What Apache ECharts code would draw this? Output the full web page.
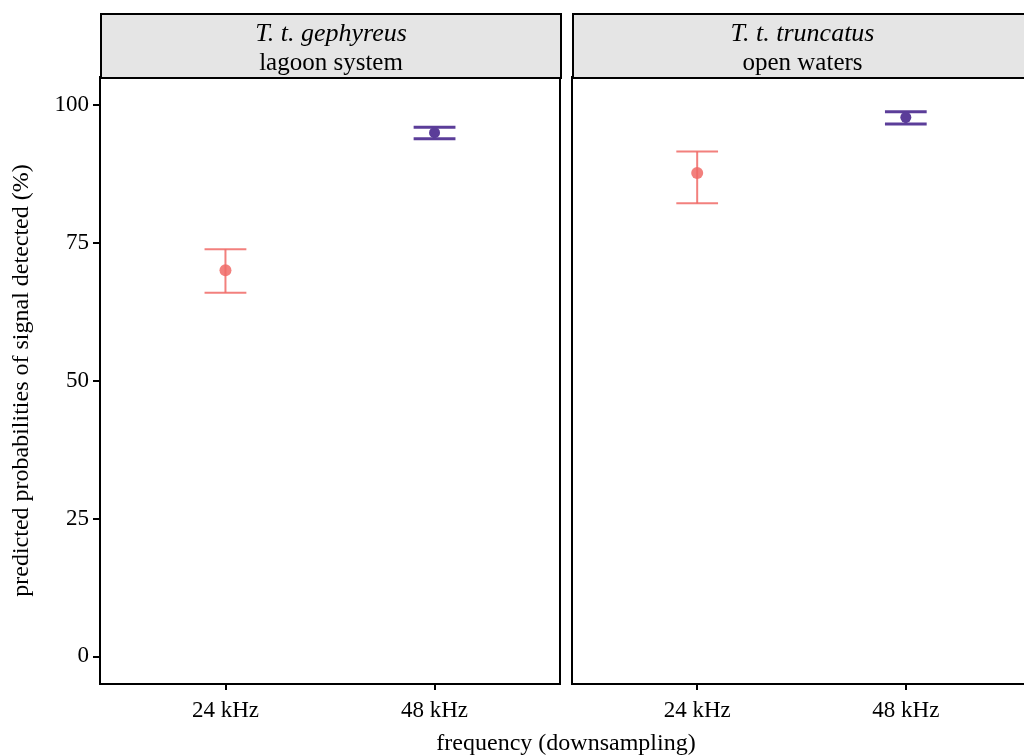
<!DOCTYPE html>
<html>
<head>
<meta charset="utf-8">
<script src="https://cdn.jsdelivr.net/npm/echarts@6/dist/echarts.min.js"></script>
<style>
  html, body { margin: 0; padding: 0; background: #fff; }
  #main { width: 1024px; height: 756px; }
</style>
</head>
<body>
<div id="main"></div>
<script>
// categories & panels
var categories = ['24 kHz', '48 kHz'];
var species = ['T. t. gephyreus', 'T. t. truncatus'];
var habitats = ['lagoon system', 'open waters'];
var yTicks = [0, 25, 50, 75, 100];

// predicted probabilities (%) with lower / upper limits
var gephyreusMean = [70.0, 94.9];
var gephyreusLow = [65.9, 93.8];
var gephyreusHigh = [73.8, 95.9];
var truncatusMean = [87.6, 97.7];
var truncatusLow = [82.1, 96.5];
var truncatusHigh = [91.5, 98.7];

var colors = ['#F06A66', '#5B3D99'];
var font = '"Liberation Serif", "DejaVu Serif", serif';

function pointData(mean) {
    var d = [];
    for (var i = 0; i < mean.length; i++) {
        d.push({ value: [i + 1, mean[i]], symbolSize: i == 0 ? 12 : 11,
                 itemStyle: { color: colors[i], opacity: i == 0 ? 0.85 : 1 } });
    }
    return d;
}
function barData(low, high) {
    var d = [];
    for (var i = 0; i < low.length; i++) d.push([i + 1, low[i], high[i], i]);
    return d;
}

//误差线 custom
function renderBar(params, api) {
    var x = api.value(0), lo = api.value(1), hi = api.value(2), k = api.value(3);
    var pLo = api.coord([x, lo]), pHi = api.coord([x, hi]);
    var half = api.size([0.1, 0])[0];
    var style = { stroke: colors[k], lineWidth: k == 0 ? 2 : 3, opacity: k == 0 ? 0.85 : 1 };
    return {
        type: 'group',
        children: [
            { type: 'line', shape: { x1: pLo[0], y1: pLo[1], x2: pHi[0], y2: pHi[1] }, style: style },
            { type: 'line', shape: { x1: pLo[0] - half, y1: pLo[1], x2: pLo[0] + half, y2: pLo[1] }, style: style },
            { type: 'line', shape: { x1: pHi[0] - half, y1: pHi[1], x2: pHi[0] + half, y2: pHi[1] }, style: style }
        ]
    };
}

function xAxisOf(idx) {
    return {
        gridIndex: idx, type: 'value', min: 0.4, max: 2.6, position: 'bottom',
        axisLine: { show: false, onZero: false },
        axisTick: { show: true, length: 6, lineStyle: { color: '#000', width: 2 }, customValues: [1, 2] },
        axisLabel: {
            customValues: [1, 2], margin: 15, color: '#000', fontFamily: font, fontSize: 23,
            formatter: function (v) { return categories[Math.round(v) - 1]; }
        },
        splitLine: { show: false }
    };
}
function yAxisOf(idx) {
    return {
        gridIndex: idx, type: 'value', min: -5, max: 105, position: 'left',
        axisLine: { show: false, onZero: false },
        axisTick: { show: idx == 0, length: 7, lineStyle: { color: '#000', width: 2 }, customValues: yTicks },
        axisLabel: { show: idx == 0, customValues: yTicks, margin: 11, color: '#000', fontFamily: font, fontSize: 23 },
        splitLine: { show: false },
        name: idx == 0 ? 'predicted probabilities of signal detected (%)' : '',
        nameLocation: 'middle', nameGap: 66,
        nameTextStyle: { color: '#000', fontFamily: font, fontSize: 24 }
    };
}

function strip(left, width, sp, hab) {
    return {
        type: 'group', left: left, top: 13,
        children: [
            { type: 'rect', shape: { x: 0, y: 0, width: width, height: 64 },
              style: { fill: '#E5E5E5', stroke: '#000', lineWidth: 2 } },
            { type: 'text', x: width / 2, y: 20,
              style: { text: sp, font: 'italic 26px ' + font, fill: '#000', textAlign: 'center', textVerticalAlign: 'middle' } },
            { type: 'text', x: width / 2, y: 49,
              style: { text: hab, font: '25px ' + font, fill: '#000', textAlign: 'center', textVerticalAlign: 'middle' } }
        ]
    };
}

var myChart = echarts.init(document.getElementById('main'));
myChart.setOption({
    animation: false,
    grid: [
        { left: 100, top: 77, width: 460, height: 607, outerBoundsMode: 'none', show: true, borderColor: '#000', borderWidth: 2, backgroundColor: '#fff' },
        { left: 572, top: 77, width: 459, height: 607, outerBoundsMode: 'none', show: true, borderColor: '#000', borderWidth: 2, backgroundColor: '#fff' }
    ],
    xAxis: [xAxisOf(0), xAxisOf(1)],
    yAxis: [yAxisOf(0), yAxisOf(1)],
    graphic: [
        strip(100, 460, species[0], habitats[0]),
        strip(572, 459, species[1], habitats[1]),
        { type: 'text', x: 566, y: 744,
          style: { text: 'frequency (downsampling)', font: '24px ' + font, fill: '#000', textAlign: 'center', textVerticalAlign: 'middle' } }
    ],
    series: [
        { type: 'custom', xAxisIndex: 0, yAxisIndex: 0, renderItem: renderBar, data: barData(gephyreusLow, gephyreusHigh), z: 2 },
        { type: 'custom', xAxisIndex: 1, yAxisIndex: 1, renderItem: renderBar, data: barData(truncatusLow, truncatusHigh), z: 2 },
        { type: 'scatter', xAxisIndex: 0, yAxisIndex: 0, data: pointData(gephyreusMean), z: 3 },
        { type: 'scatter', xAxisIndex: 1, yAxisIndex: 1, data: pointData(truncatusMean), z: 3 }
    ]
});
</script>
</body>
</html>
